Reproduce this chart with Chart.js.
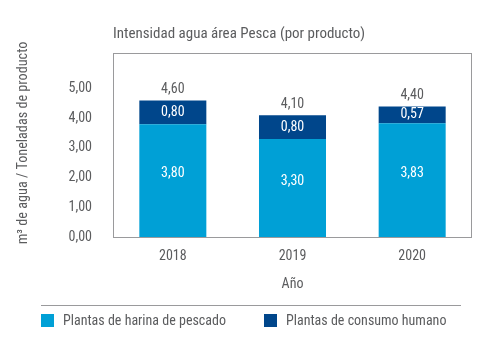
<!DOCTYPE html>
<html><head><meta charset="utf-8">
<script src="https://cdn.jsdelivr.net/npm/chart.js@4"></script>
<style>html,body{margin:0;padding:0;background:#fff}#c{display:block}</style>
</head><body>
<canvas id="c" width="502" height="351"></canvas>
<script>
const years = ['2018', '2019', '2020'];
const harina = [3.80, 3.30, 3.83];
const consumo = [0.80, 0.80, 0.57];
const totals = [4.60, 4.10, 4.40];
const seriesNames = ['Plantas de harina de pescado', 'Plantas de consumo humano'];
const yTicks = [0, 1, 2, 3, 4, 5];
const chartTitle = 'Intensidad agua área Pesca (por producto)';
const yTitle = 'm³ de agua / Toneladas de producto';
const xTitle = 'Año';

const FONT = '"Roboto Condensed", Roboto, sans-serif';
const GRAY = '#5b5c5e';
const LIGHT = '#00a0d6';
const DARK = '#00468b';
const fmt = v => v.toFixed(2).replace('.', ',');

const deco = {
  id: 'deco',
  afterDatasetsDraw(chart) {
    const ctx = chart.ctx, a = chart.chartArea;
    ctx.save();
    // frame
    ctx.strokeStyle = '#9a9a9c'; ctx.lineWidth = 1;
    ctx.strokeRect(Math.round(a.left) + 0.5, Math.round(a.top) + 0.5, Math.round(a.right - a.left) - 1, Math.round(a.bottom - a.top));
    // title
    ctx.fillStyle = GRAY; ctx.font = '15px ' + FONT; ctx.textBaseline = 'middle'; ctx.textAlign = 'left';
    ctx.fillText(chartTitle, a.left, 34);
    // y axis title
    ctx.save();
    ctx.translate(23, 143);
    ctx.rotate(-Math.PI / 2);
    ctx.font = '14.2px ' + FONT; ctx.textAlign = 'center'; ctx.textBaseline = 'middle';
    ctx.fillText(yTitle, 0, 0);
    ctx.restore();
    // segment labels
    ctx.textAlign = 'center'; ctx.font = '14px ' + FONT;
    const y = chart.scales.y;
    chart.data.datasets.forEach((ds, di) => {
      const meta = chart.getDatasetMeta(di);
      meta.data.forEach((bar, i) => {
        const top = bar.y, bot = bar.base;
        const off = di === 0 ? -7 : 0;
        ctx.fillStyle = '#ffffff';
        ctx.fillText(fmt(ds.data[i]), bar.x, (top + bot) / 2 + off);
      });
    });
    // totals
    const meta1 = chart.getDatasetMeta(1);
    ctx.fillStyle = GRAY;
    meta1.data.forEach((bar, i) => {
      ctx.fillText(fmt(totals[i]), bar.x, y.getPixelForValue(totals[i]) - 11);
    });
    // legend separator
    ctx.strokeStyle = '#9a9a9c';
    ctx.beginPath(); ctx.moveTo(41, 305.5); ctx.lineTo(461, 305.5); ctx.stroke();
    // legend
    const lx = [41, 264];
    chart.data.datasets.forEach((ds, di) => {
      ctx.fillStyle = ds.backgroundColor;
      ctx.fillRect(lx[di], 314, 13, 13);
      ctx.fillStyle = GRAY; ctx.textAlign = 'left';
      ctx.fillText(ds.label, lx[di] + 22, 321);
    });
    ctx.restore();
  }
};

new Chart(document.getElementById('c'), {
  type: 'bar',
  data: {
    labels: years,
    datasets: [
      { label: seriesNames[0], data: harina, backgroundColor: LIGHT, categoryPercentage: 1, barPercentage: 0.56 },
      { label: seriesNames[1], data: consumo, backgroundColor: DARK, categoryPercentage: 1, barPercentage: 0.56 }
    ]
  },
  options: {
    responsive: false,
    animation: false,
    devicePixelRatio: 1,
    layout: { padding: { left: 0, right: 30, top: 53, bottom: 58.6 } },
    plugins: { legend: { display: false }, tooltip: { enabled: false }, title: { display: false } },
    scales: {
      x: {
        stacked: true,
        grid: { display: false, drawTicks: false },
        border: { display: false },
        ticks: { color: GRAY, font: { family: FONT, size: 14 }, padding: 10.6 },
        title: { display: true, text: xTitle, color: GRAY, font: { family: FONT, size: 14 }, padding: { top: 0, bottom: 0 } },
        afterFit: s => { s.height = 55.4; }
      },
      y: {
        stacked: true,
        min: 0, max: 6.2,
        afterBuildTicks: s => { s.ticks = yTicks.map(v => ({ value: v })); },
        grid: { display: false, drawTicks: false },
        border: { display: false },
        ticks: { color: GRAY, font: { family: FONT, size: 14 }, padding: 21, callback: v => fmt(v) },
        title: { display: false },
        afterFit: s => { s.width = 113; }
      }
    }
  },
  plugins: [deco]
});
</script>
</body></html>
